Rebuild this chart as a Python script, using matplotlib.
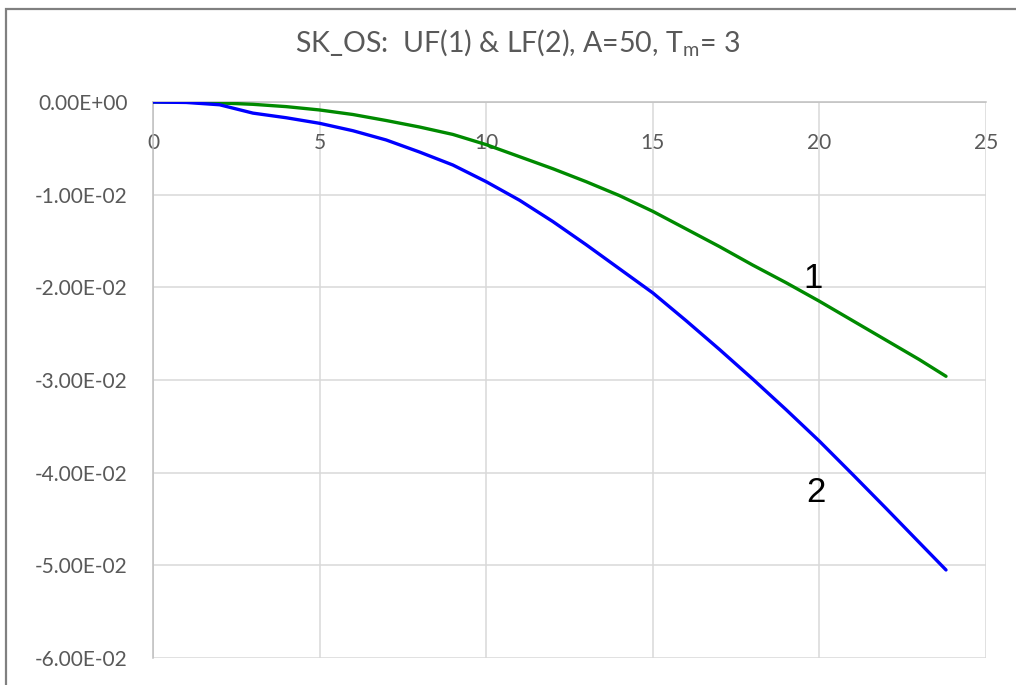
import matplotlib.pyplot as plt
from matplotlib.patches import Rectangle
from matplotlib.ticker import FuncFormatter, MultipleLocator

# time points and the two deflection series (UF = curve 1, LF = curve 2)
t = [0, 1, 2, 3, 4, 5, 6, 7, 8, 9, 10, 11, 12, 13, 14, 15, 16, 17, 18, 19,
     20, 21, 22, 23, 23.8]
uf = [0, -0.002, -0.01, -0.025, -0.05, -0.086, -0.135, -0.20, -0.27, -0.35,
      -0.46, -0.59, -0.72, -0.86, -1.01, -1.18, -1.37, -1.56, -1.76, -1.95,
      -2.15, -2.36, -2.57, -2.78, -2.96]
lf = [0, -0.005, -0.03, -0.12, -0.17, -0.23, -0.31, -0.41, -0.54, -0.68,
      -0.86, -1.06, -1.29, -1.54, -1.80, -2.06, -2.36, -2.67, -2.99, -3.32,
      -3.66, -4.02, -4.385, -4.755, -5.05]
uf = [v * 1e-2 for v in uf]
lf = [v * 1e-2 for v in lf]

label_pos = {"1": (19.8, -1.90e-2), "2": (19.9, -4.21e-2)}


def sci_fmt(v, pos):
    v = round(v, 8)
    if v == 0:
        v = 0.0
    return f"{v:.2E}"


W, H = 1016, 685
fig = plt.figure(figsize=(W / 100, H / 100), dpi=100)
fig.patches.append(Rectangle((6 / W, -0.01), 1.1, 1 - 9 / H + 0.01,
                             transform=fig.transFigure, fill=False,
                             edgecolor="#808080", linewidth=1.6))

ax = fig.add_axes([153 / W, (H - 658) / H, (986 - 153) / W, (658 - 102) / H])
ax.plot(t, uf, color="#008a00", linewidth=2.4, solid_capstyle="round", zorder=3)
ax.plot(t, lf, color="#0000ff", linewidth=2.4, solid_capstyle="round", zorder=3)

for txt, (x, y) in label_pos.items():
    ax.text(x, y, txt, fontsize=25, family=["Liberation Sans Narrow", "Liberation Sans"],
            fontstretch="condensed", ha="center", va="center", color="black")

ax.set_xlim(0, 25)
ax.set_ylim(-0.06, 0)
ax.xaxis.set_major_locator(MultipleLocator(5))
ax.yaxis.set_major_locator(MultipleLocator(0.01))
ax.yaxis.set_major_formatter(FuncFormatter(sci_fmt))
ax.grid(True, color="#d9d9d9", linewidth=1.1)
ax.set_axisbelow(True)
for side in ["right", "bottom"]:
    ax.spines[side].set_visible(False)
for side in ["left", "top"]:
    ax.spines[side].set_color("#bfbfbf")
    ax.spines[side].set_linewidth(1.1)
ax.xaxis.tick_top()
ax.tick_params(axis="y", length=0, pad=18, labelsize=15, labelcolor="#595959")
ax.tick_params(axis="x", length=0, pad=-37, labelsize=15, labelcolor="#595959")
for lab in ax.get_xticklabels() + ax.get_yticklabels():
    lab.set_family("Lato")

fig.text(518 / W, 1 - 43 / H, "SK_OS:  UF(1) & LF(2), A=50, T$_\\mathregular{m}$= 3",
         ha="center", va="center", fontsize=20.5, family="Lato", color="#595959")

fig.savefig("out.png", dpi=100)
